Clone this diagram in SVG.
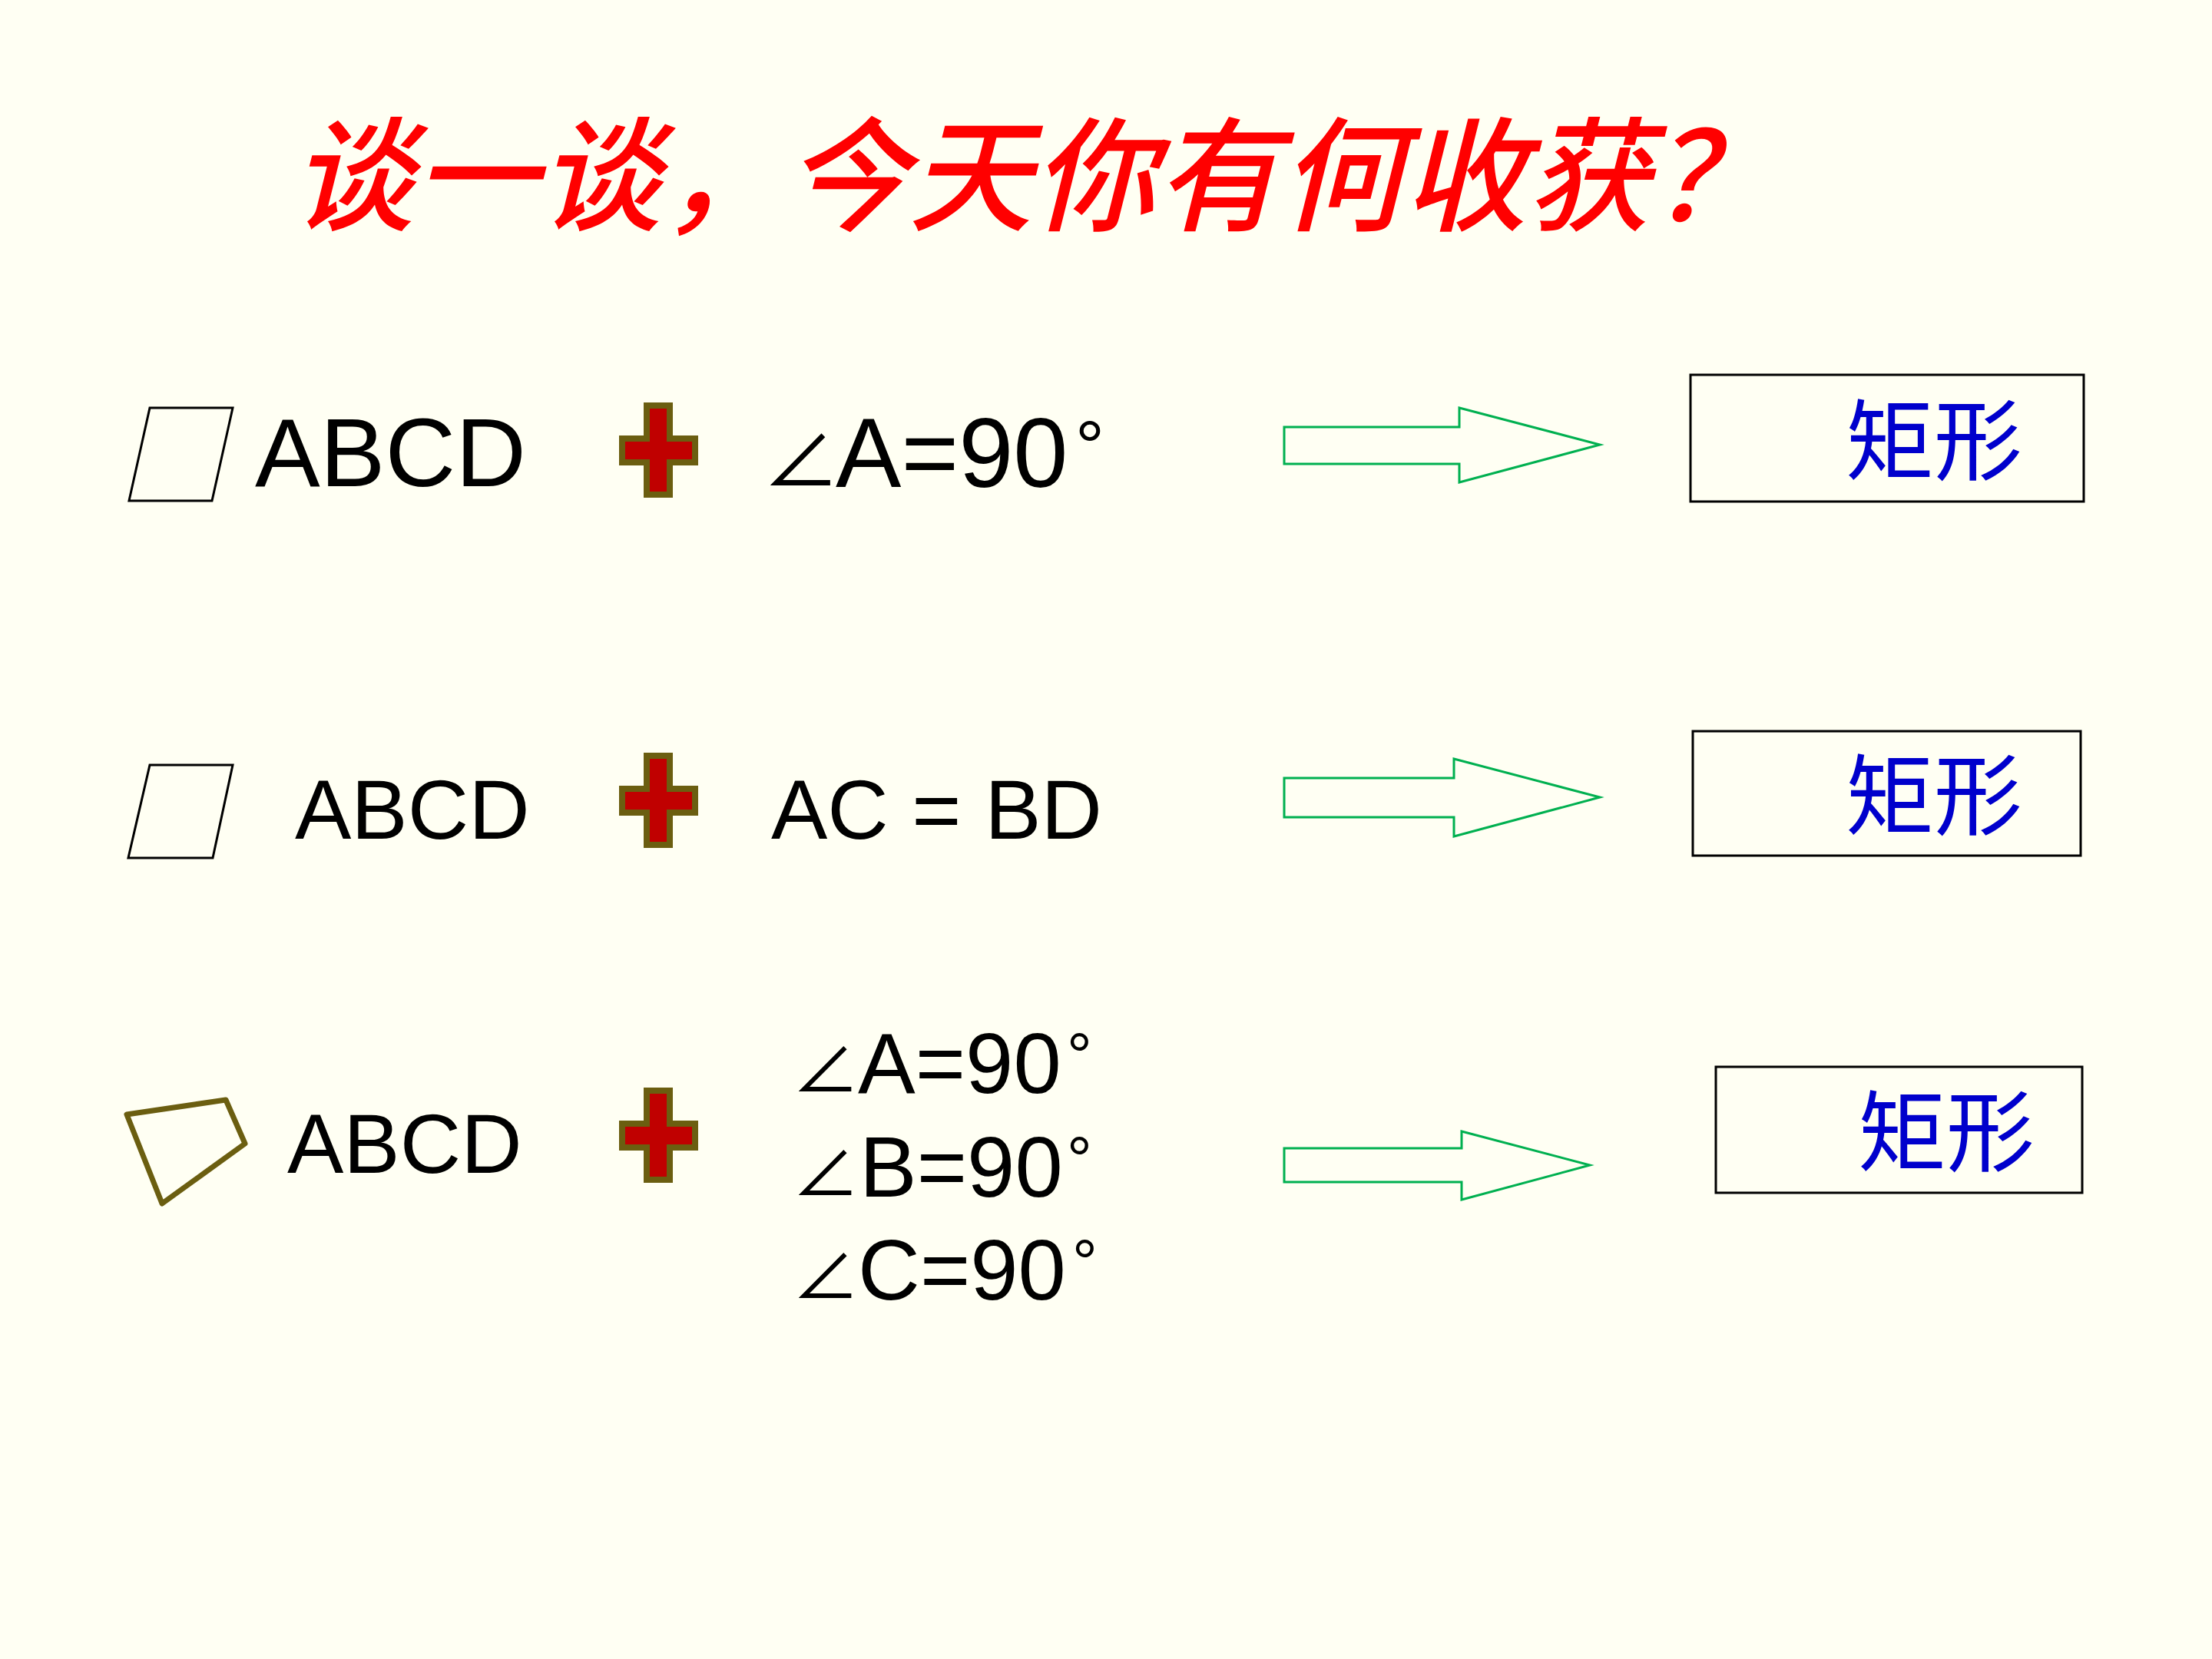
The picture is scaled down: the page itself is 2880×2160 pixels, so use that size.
<svg xmlns="http://www.w3.org/2000/svg" xmlns:xlink="http://www.w3.org/1999/xlink" width="2880" height="2160" viewBox="0 0 2880 2160">
<style>
.lat{font-family:"Liberation Sans",Arial,sans-serif;fill:#000}
.ang{font-family:"Noto Sans CJK SC","DejaVu Sans",sans-serif;fill:#000}
.title{font-family:"Noto Sans CJK SC",sans-serif;font-style:italic;font-weight:500;fill:#FF0000;font-size:161px}
.res{font-family:"Noto Sans CJK SC",sans-serif;fill:#0000CC;font-size:115px}
.box{fill:none;stroke:#000;stroke-width:3}
.arrow{fill:none;stroke:#00B050;stroke-width:3}
.par{fill:none;stroke:#000;stroke-width:3;stroke-linejoin:miter}
.quad{fill:none;stroke:#6B5E10;stroke-width:7;stroke-linejoin:round}
.cross{fill:#C00000;stroke:#6B5E10;stroke-width:8}
</style>
<defs>
<path id="crossShape" class="cross" d="M36,4 H66 V47 H99 V78 H66 V120 H36 V78 H4 V47 H36 Z"/>
</defs>
<rect x="0" y="0" width="2880" height="2160" fill="#FFFFF3"/>

<g id="title">
<text class="title" x="378" y="288">谈一谈，今天你有何收获？</text>
</g>

<g id="row1">
<g id="row1-shape"><polygon class="par" points="195,531 303,531 276,652 168,652"/></g>
<g id="row1-abcd"><text class="lat" x="332" y="633" font-size="127">ABCD</text></g>
<g id="row1-plus"><use xlink:href="#crossShape" transform="translate(806,524)"/></g>
<g id="row1-cond">
<text class="ang" x="993" y="634" font-size="100">∠</text>
<text class="lat" x="1088" y="634" font-size="128">A=90</text>
<text class="lat" x="1400" y="614" font-size="95">°</text>
</g>
<g id="row1-result">
<rect class="box" x="2201" y="488" width="512" height="165"/>
<text class="res" x="2403" y="616">矩形</text>
</g>
</g>

<g id="row2">
<g id="row2-shape"><polygon class="par" points="195,996 303,996 277,1117 167,1117"/></g>
<g id="row2-abcd"><text class="lat" x="384" y="1092" font-size="110">ABCD</text></g>
<g id="row2-plus"><use xlink:href="#crossShape" transform="translate(806,980)"/></g>
<g id="row2-cond"><text class="lat" x="1004" y="1092" font-size="110">AC = BD</text></g>
<g id="row2-result">
<rect class="box" x="2204" y="952" width="505" height="162"/>
<text class="res" x="2403" y="1078">矩形</text>
</g>
</g>

<g id="row3">
<g id="row3-shape"><polygon class="quad" points="165,1451 294,1432 319,1489 211,1567"/></g>
<g id="row3-abcd"><text class="lat" x="374" y="1527" font-size="110">ABCD</text></g>
<g id="row3-plus"><use xlink:href="#crossShape" transform="translate(806,1416)"/></g>
<g id="row3-cond">
<text class="ang" x="1031" y="1423" font-size="88">∠</text>
<text class="lat" x="1117" y="1423" font-size="112">A=90</text>
<text class="lat" x="1389" y="1402" font-size="82">°</text>
<text class="ang" x="1031" y="1558" font-size="88">∠</text>
<text class="lat" x="1119" y="1558" font-size="112">B=90</text>
<text class="lat" x="1389" y="1537" font-size="82">°</text>
<text class="ang" x="1031" y="1692" font-size="88">∠</text>
<text class="lat" x="1117" y="1692" font-size="112">C=90</text>
<text class="lat" x="1396" y="1671" font-size="82">°</text>
</g>
<g id="row3-result">
<rect class="box" x="2234" y="1389" width="477" height="164"/>
<text class="res" x="2419" y="1516">矩形</text>
</g>
</g>

<g id="connectors">
<path class="arrow" d="M1672,556 H1900 V531 L2083,579 L1900,628 V604 H1672 Z"/>
<path class="arrow" d="M1672,1013 H1893 V988 L2083,1038 L1893,1089 V1064 H1672 Z"/>
<path class="arrow" d="M1672,1495 H1903 V1473 L2070,1517 L1903,1562 V1539 H1672 Z"/>
</g>
</svg>
